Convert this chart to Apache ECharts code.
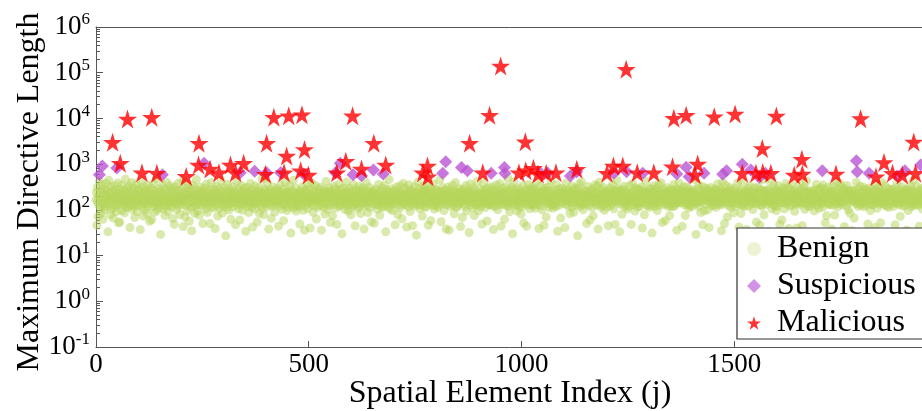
<!DOCTYPE html>
<html>
<head>
<meta charset="utf-8">
<script src="https://cdn.jsdelivr.net/npm/echarts@6/dist/echarts.min.js"></script>
<style>
  html, body { margin: 0; padding: 0; background: #fff; }
  #chart { width: 922px; height: 411px; }
</style>
</head>
<body>
<div id="chart"></div>
<script>
// benign: one value per spatial element index j (array position = j)
const benign = [
  165,240,46,310,148,72,205,126,420,188,110,270,84,152,356,131,62,228,174,99,290,143,215,118,380,
  196,137,260,33,172,445,121,230,157,78,315,182,104,250,139,206,66,167,340,114,193,274,128,92,222,
  150,385,176,52,238,135,54,281,160,201,97,350,146,219,124,175,265,86,189,470,132,242,158,112,305,
  178,118,210,331,142,41,255,168,125,398,186,102,233,149,296,120,68,212,177,138,360,155,91,268,199,
  127,286,163,224,37,184,410,140,250,115,197,73,318,171,136,232,103,275,154,190,82,345,123,214,166,
  246,56,179,138,300,158,61,226,192,117,372,145,262,89,207,170,129,480,151,98,239,183,134,290,112,
  186,155,29,254,130,216,345,162,106,195,141,283,75,229,173,120,402,156,200,93,264,147,181,126,335,
  140,218,295,117,176,65,243,188,152,48,322,164,211,133,272,101,190,148,380,122,257,174,79,206,160,
  272,131,194,157,420,43,227,146,185,70,302,167,125,248,96,212,178,338,139,56,233,187,114,276,153,
  35,198,350,143,231,119,169,83,288,203,128,456,161,94,220,184,136,264,76,180,311,149,205,124,248,
  184,50,236,170,134,301,155,212,104,365,142,195,88,258,176,130,224,164,50,280,146,391,117,191,159,
  229,150,111,276,183,39,210,165,325,126,241,73,196,144,288,172,108,217,158,434,132,186,85,251,168,
  121,308,162,204,138,27,245,179,113,359,152,226,99,194,271,135,168,62,237,188,145,320,116,210,174,
  266,140,187,47,230,156,414,127,203,171,106,282,149,60,221,180,343,133,251,98,192,163,130,297,148,
  177,224,34,190,145,312,118,255,166,87,238,197,131,378,154,208,112,269,42,182,141,229,170,104,333,
  132,192,260,159,54,218,175,143,305,84,246,188,124,208,151,470,109,233,169,78,286,144,199,136,258,
  210,116,168,380,147,234,38,183,160,274,129,196,65,244,177,119,315,158,213,140,90,262,185,152,224,
  153,290,136,205,44,173,248,121,350,194,157,103,231,166,282,134,58,216,189,146,396,127,176,242,97,
  250,181,114,227,163,340,138,191,31,270,154,209,125,186,446,110,241,172,137,300,94,220,161,193,131,
  118,237,186,142,49,259,175,120,219,165,317,146,98,252,180,36,204,155,283,128,231,169,107,365,143,
  193,152,277,40,214,167,132,388,160,240,88,199,149,266,121,185,340,170,63,225,158,195,114,287,176,
  161,225,128,312,185,36,236,150,179,116,270,200,140,81,246,173,417,134,218,100,257,164,188,126,305,
  239,53,175,198,147,258,74,214,187,131,327,162,223,110,279,152,48,196,170,237,139,364,120,207,181,
  128,282,164,30,229,177,136,300,155,212,102,243,183,145,405,124,186,260,95,221,168,132,295,150,78,
  204,172,117,253,142,357,188,125,235,45,198,160,276,137,213,107,171,330,154,246,119,191,83,268,176,
  148,226,305,134,180,38,265,166,203,121,392,146,228,173,87,250,195,141,310,112,217,161,55,236,187,
  262,137,192,159,51,241,178,130,284,207,150,103,220,168,360,128,197,76,255,183,143,230,115,299,165,
  116,210,174,344,140,226,33,195,153,272,119,238,176,143,460,160,105,247,192,133,289,172,97,214,151,
  190,155,249,47,185,138,315,165,222,79,263,186,124,207,157,338,113,232,170,64,224,149,375,136,203,
  175,296,130,214,169,42,255,144,198,117,354,161,240,92,275,182,138,210,166,45,259,178,121,318,146,
  137,219,188,28,236,160,405,125,193,151,293,106,227,174,130,262,193,73,242,159,331,139,202,114,270,
  228,117,167,262,148,331,46,218,180,135,239,169,58,285,152,199,125,372,164,233,104,189,147,280,122,
  159,269,143,195,112,247,184,133,442,167,210,55,256,178,140,303,157,220,97,194,163,270,131,38,216,
  201,134,318,170,224,36,192,154,275,118,236,186,145,346,127,204,170,82,258,147,395,171,113,233,185,
  120,246,179,136,291,162,213,43,257,190,149,68,225,165,287,134,212,160,120,339,177,94,242,156,198,
  253,166,32,230,151,368,128,199,172,243,111,304,141,196,75,267,189,150,214,126,180,419,137,223,95,
  180,142,287,197,117,222,157,49,260,176,135,386,150,229,169,112,281,193,140,57,237,164,306,130,210,
  131,215,161,253,138,319,190,122,206,37,279,152,194,118,241,174,350,147,216,101,188,262,158,129,376,
  221,171,44,241,181,145,296,132,227,165,62,250,183,126,318,158,208,139,485,119,233,170,91,272,147,
  167,308,133,196,30,262,168,412,143,210,187,124,283,155,95,229,172,134,303,186,114,246,154,200,81,
  244,118,226,158,340,52,218,176,137,269,151,197,44,254,165,128,358,191,225,106,279,145,183,131,312,
  138,271,184,124,207,166,285,108,240,154,393,132,222,179,140,247,39,198,161,330,123,215,172,101,256,
  199,152,233,46,302,187,148,219,70,262,175,137,316,160,204,113,268,182,145,429,129,194,238,166,110,
  126,214,171,275,139,211,118,355,168,227,34,198,149,290,126,186,245,66,231,173,139,296,155,211,179,
  261,190,41,243,164,385,133,201,158,274,120,186,237,151,83,252,194,162,332,115,208,143,269,89,222,
  156,301,174,212,127,232,178,27,287,140,205,365,166,119,243,145,406,131,189,221,101,264,180,135,199,
  210,135,258,50,195,151,326,184,125,239,173,60,264,197,146,215,112,288,167,74,234,186,142,354,158,
  182,248,128,331,178,38,227,160,402,134,204,156,113,279,181,230,128,190,309,151,98,253,170,219,136,
  115,195,167,232,45,266,144,210,174,300,123,246,184,137,362,158,206,105,240,175,48,270,152,198,441,
  249,160,290,143,207,172,33,257,189,133,213,80,280,161,226,148,330,117,199,176,262,130,221,166,104,
  170,224,120,187,338,150,236,179,48,228,164,377,127,196,143,255,185,94,303,158,209,138,284,116,192,
  141,283,179,118,246,195,141,319,155,40,265,188,232,149,78,216,170,425,132,247,181,122,235,163,286,
  233,113,209,160,295,128,185,31,255,171,142,337,199,117,262,154,211,140,295,96,226,178,146,358,126,
  187,256,145,392,172,221,53,240,162,281,130,193,167,58,244,183,135,305,158,216,118,264,189,75,230,
  124,177,282,153,118,263,182,141,358,119,232,174,253,133,208,36,280,171,146,230,386,147,201,164,271,
  268,143,200,44,230,162,319,130,210,187,75,249,145,320,185,129,242,161,109,279,177,123,244,192,139,
  162,245,120,271,183,140,226,470,153,241,29,205,168,138,289,150,194,352,117,215,166,87,258,151,213,
  195,47,322,175,211,95,252,167,132,296,184,153,226,100,267,178,41,233,160,196,309,139,182,122,246,
  147,236,166,128,285,156,199,113,275,163,220,370,141,193,162,230,128,281,186,145,35,248,171,400,133,
  258,180,50,218,148,344,173,239,154,70,263,197,124,236,145,308,172,112,223,168,271,135,216,159,86,
  178,292,149,203,173,120,246,137,393,176,212,42,255,181,131,213,83,265,154,385,129,196,176,243,118,
  129,217,187,262,37,226,162,186,299,121,240,165,337,149,200,175,246,137,197,102,238,182,140,302,167,
  216,157,54,243,191,135,314,150,225,172,46,282,127,171,263,119,454,160,214,143,78,260,190,151,229,
  169,266,133,208,153,280,33,199,162,416,139,225,186,105,250,157,193,131,336,174,209,121,282,163,96,
  240,120,227,171,335,145,230,48,263,183,141,212,60,239,178,300,146,221,106,256,151,373,136,198,174,
  152,309,178,39,217,189,121,271,166,235,128,352,170,208,142,185,274,93,229,184,133,248,40,213,156,
  206,141,254,156,383,131,203,175,147,290,45,244,178,138,312,166,103,253,161,190,426,149,227,118,268,
  134,234,191,120,243,170,31,226,187,139,255,160,216,95,277,142,207,168,361,125,183,152,287,172,108,
  188,276,147,229,160,305,137,197,114,348,170,195,148,282,52,236,180,74,220,159,243,133,316,185,141,
  239,129,203,179,38,251,160,329,126,212,168,77,261,175,137,228,395,155,193,117,269,177,140,198,382,
  150,311,172,131,226,144,271,184,241,43,293,157,220,189,123,341,167,236,100,252,146,208,84,266,178,
  221,161,35,267,197,153,216,66,258,171,143,228,399,136,202,156,119,287,176,213,149,329,127,194,163,
  167,248,189,140,314,117,237,173,152,283,127,201,163,256,49,219,186,138,301,182,97,245,166,223,129,
  129,195,283,154,201,171,41,262,146,370,190,108,242,180,145,312,134,256,164,52,229,175,391,145,207,
  254,137,168,235,125,334,158,210,181,120,231,164,292,113,192,241,172,32,278,154,206,137,262,188,118,
  176,290,150,47,244,177,142,378,139,227,168,195,130,265,184,72,236,150,320,162,209,121,271,145,238,
  209,124,218,166,278,36,197,162,265,97,254,181,141,345,154,213,117,289,189,135,246,171,443,126,183,
  158,236,134,199,150,323,186,125,233,176,44,268,157,211,133,295,172,104,243,165,213,138,306,178,150
];

// suspicious: [j, max directive length]
const suspicious = [
  [8,588],[15,910],[49,820],[156,588],[254,1045],[339,650],[373,700],[401,650],[434,650],
  [488,610],[563,650],[574,1045],[604,588],[624,557],[652,745],[675,610],[815,630],[822,1130],
  [859,840],[873,720],[929,630],[960,840],[961,630],[1045,630],[1062,630],[1115,550],[1130,685],
  [1217,630],[1247,685],[1285,630],[1365,610],[1387,850],[1394,530],[1429,630],[1473,600],
  [1482,720],[1519,990],[1539,745],[1559,515],[1573,630],[1707,720],[1787,1190],[1789,685],
  [1817,630],[1883,550],[1901,720],[1938,960]
];

// malicious: [j, max directive length]
const malicious = [
  [39,3000],[57,1050],[74,9700],[108,650],[131,10600],[143,630],[212,540],[241,960],[242,2850],
  [268,780],[289,650],[316,960],[328,650],[347,1050],[398,600],[401,2850],[418,10600],[442,650],
  [448,1510],[453,11500],[481,720],[484,12100],[490,2100],[499,580],[566,650],[587,1160],
  [603,11500],[624,780],[653,2850],[681,960],[768,650],[779,910],[780,530],[878,2850],[909,650],
  [925,11700],[951,140000],[994,650],[1009,3100],[1010,720],[1028,810],[1039,610],[1058,630],
  [1081,650],[1130,770],[1201,630],[1216,910],[1238,910],[1246,119000],[1272,650],[1311,650],
  [1355,880],[1358,10100],[1387,11700],[1408,580],[1414,1010],[1453,10900],[1502,12500],
  [1519,630],[1551,630],[1566,2200],[1567,660],[1586,630],[1599,11300],[1641,580],[1659,1280],
  [1660,610],[1739,610],[1797,9900],[1833,530],[1852,1080],[1872,630],[1895,580],[1922,3050],[1926,630]
];

const xTicks = [0, 500, 1000, 1500];
const yMajor = [0.1, 1, 10, 100, 1000, 10000, 100000, 1000000];

// minor log ticks 2..9 x 10^k
const yMinor = [];
yMajor.slice(0, -1).forEach(d => {
  for (let m = 2; m <= 9; m++) yMinor.push(+(d * m).toPrecision(3));
});

const serif = '"Liberation Serif", "DejaVu Serif", serif';
const axisGray = '#555';
const starPath = 'path://M50,0 L61.2,34.5 L97.6,34.5 L68.2,55.9 L79.4,90.5 L50,69.1 L20.6,90.5 L31.8,55.9 L2.4,34.5 L38.8,34.5 Z';

const chart = echarts.init(document.getElementById('chart'));

const option = {
  animation: false,
  grid: { left: 96, right: -2, top: 27, bottom: 64, outerBoundsMode: 'none', containLabel: false },
  legend: {
    orient: 'vertical',
    left: 737,
    top: 228,
    padding: [5, 14, 0, 10],
    itemGap: 5,
    itemWidth: 14,
    itemHeight: 14,
    backgroundColor: '#fff',
    borderColor: '#333',
    borderWidth: 1.2,
    borderRadius: 0,
    textStyle: { fontFamily: serif, fontSize: 32, color: '#000', padding: [0, 0, 0, 11] },
    data: [
      { name: 'Benign', icon: 'circle', itemStyle: { color: 'rgba(181,213,90,0.55)' } },
      { name: 'Suspicious', icon: 'diamond', itemStyle: { color: 'rgba(186,85,211,0.8)' } },
      { name: 'Malicious', icon: starPath, itemStyle: { color: '#ff0000' } }
    ]
  },
  xAxis: [
    {
      type: 'value',
      min: 0,
      max: 1946,
      interval: 500,
      name: 'Spatial Element Index (j)',
      nameLocation: 'middle',
      nameGap: 31,
      nameMoveOverlap: false,
      nameTextStyle: { fontFamily: serif, fontSize: 32, color: '#000', verticalAlign: 'top' },
      axisLine: { lineStyle: { color: axisGray, width: 1 } },
      axisTick: { inside: true, length: 6, lineStyle: { color: axisGray }, customValues: xTicks },
      axisLabel: {
        customValues: xTicks,
        formatter: v => String(v),
        margin: 4,
        fontFamily: serif,
        fontSize: 27,
        color: '#000'
      },
      splitLine: { show: false }
    },
    {
      type: 'value',
      position: 'top',
      min: 0,
      max: 1946,
      interval: 500,
      axisLine: { show: true, lineStyle: { color: axisGray, width: 1 } },
      axisTick: { show: false },
      axisLabel: { show: false },
      splitLine: { show: false }
    }
  ],
  yAxis: [
    {
      type: 'log',
      logBase: 10,
      min: 0.1,
      max: 1e6,
      name: 'Maximum Directive Length',
      nameLocation: 'middle',
      nameRotate: 90,
      nameGap: 50,
      nameMoveOverlap: false,
      nameTextStyle: { fontFamily: serif, fontSize: 32, color: '#000', padding: [0, 10, 0, 0] },
      axisLine: { show: true, lineStyle: { color: axisGray, width: 1 } },
      axisTick: { inside: true, length: 7, lineStyle: { color: axisGray }, customValues: yMajor },
      axisLabel: {
        customValues: yMajor,
        margin: 6,
        color: '#000',
        formatter: v => '{b|10}{s|' + Math.round(Math.log10(v)) + '}',
        rich: {
          b: { fontFamily: serif, fontSize: 27, color: '#000' },
          s: { fontFamily: serif, fontSize: 17, color: '#000', padding: [0, 0, 14, 0] }
        }
      },
      splitLine: { show: false }
    },
    {
      type: 'log',
      logBase: 10,
      min: 0.1,
      max: 1e6,
      position: 'left',
      axisLine: { show: false },
      axisTick: { inside: true, length: 4, lineStyle: { color: axisGray }, customValues: yMinor },
      axisLabel: { show: false },
      splitLine: { show: false }
    }
  ],
  series: [
    {
      name: 'Benign',
      type: 'scatter',
      symbol: 'circle',
      symbolSize: 9,
      itemStyle: { color: '#b5d55a', opacity: 0.5 },
      data: benign.map((v, j) => [j, v])
    },
    {
      name: 'Suspicious',
      type: 'scatter',
      symbol: 'diamond',
      symbolSize: 13,
      itemStyle: { color: '#ba55d3', opacity: 0.8 },
      data: suspicious
    },
    {
      name: 'Malicious',
      type: 'scatter',
      symbol: starPath,
      symbolSize: 19,
      itemStyle: { color: '#ff0000' },
      data: malicious
    }
  ]
};

chart.setOption(option);
</script>
</body>
</html>
